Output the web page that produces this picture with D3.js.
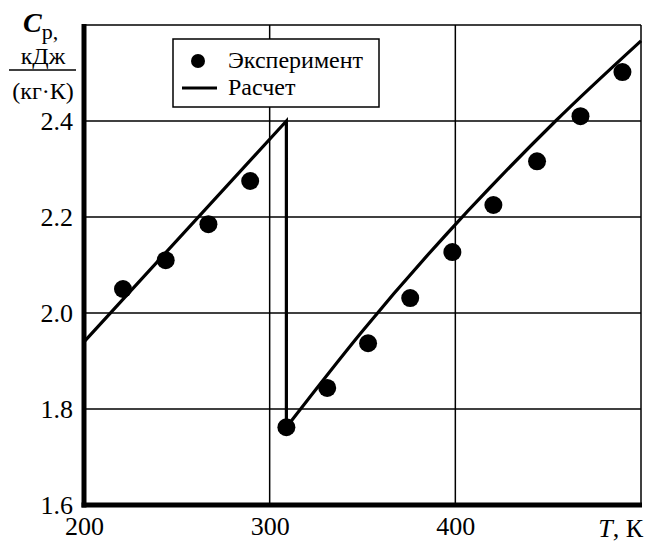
<!DOCTYPE html>
<html>
<head>
<meta charset="utf-8">
<script src="https://cdn.jsdelivr.net/npm/d3@7"></script>
<style>
  body { margin: 0; background: #fff; }
  svg text { font-family: "Liberation Serif", "Tinos", "Times New Roman", "DejaVu Serif", serif; fill: #000; }
</style>
</head>
<body>
<svg id="chart"></svg>
<script>
// data
const expT = [221, 244, 267, 289.5, 309, 331, 353, 375.7, 398.4, 420.5, 444, 467.4, 490];
const expCp = [2.05, 2.11, 2.185, 2.275, 1.762, 1.844, 1.937, 2.031, 2.127, 2.225, 2.316, 2.41, 2.502];

// calculated curve, two branches joined by a jump at 309 K
const calcT1 = [200, 309, 309];
const calcCp1 = [1.94, 2.4, 1.762];
const calcT2 = [309, 349, 454, 500];
const calcCp2 = [1.762, 1.958, 2.4, 2.567];

const xTicks = [200, 300, 400];
const yTicks = [1.6, 1.8, 2.0, 2.2, 2.4];
const xGrid = [300, 400, 500];
const yGrid = [1.8, 2.0, 2.2, 2.4, 2.6];

const serif = "'Liberation Serif', Tinos, 'Times New Roman', 'DejaVu Serif', serif";

const width = 658;
const height = 543;
const margin = { top: 25, right: 17, bottom: 38, left: 84 };

const svg = d3.select("#chart").attr("width", width).attr("height", height);

const x = d3.scaleLinear().domain([200, 500]).range([margin.left, width - margin.right]);
const y = d3.scaleLinear().domain([1.6, 2.6]).range([height - margin.bottom, margin.top]);

// grid
svg.append("g")
  .selectAll("line")
  .data(xGrid)
  .join("line")
  .attr("x1", (d) => x(d))
  .attr("x2", (d) => x(d))
  .attr("y1", y(1.6))
  .attr("y2", y(2.6))
  .attr("stroke", "#000")
  .attr("stroke-width", 1.5);

svg.append("g")
  .selectAll("line")
  .data(yGrid)
  .join("line")
  .attr("x1", x(200))
  .attr("x2", x(500))
  .attr("y1", (d) => y(d))
  .attr("y2", (d) => y(d))
  .attr("stroke", "#000")
  .attr("stroke-width", 1.5);

// thick axes
svg.append("line")
  .attr("x1", x(200)).attr("x2", x(200))
  .attr("y1", y(2.6) - 1).attr("y2", y(1.6) + 2.5)
  .attr("stroke", "#000").attr("stroke-width", 5);
svg.append("line")
  .attr("x1", x(200) - 2.5).attr("x2", x(500) + 1)
  .attr("y1", y(1.6)).attr("y2", y(1.6))
  .attr("stroke", "#000").attr("stroke-width", 5);

// tick labels
const yAxis = d3.axisLeft(y).tickValues(yTicks).tickSize(0).tickPadding(10)
  .tickFormat(d3.format(".1f"));
svg.append("g")
  .attr("transform", `translate(${margin.left - 1},0)`)
  .call(yAxis)
  .attr("font-family", serif)
  .attr("font-size", 26)
  .call((g) => g.select(".domain").remove());

const xAxis = d3.axisBottom(x).tickValues(xTicks).tickSize(0).tickPadding(12)
  .tickFormat(d3.format("d"));
svg.append("g")
  .attr("transform", `translate(0,${height - margin.bottom})`)
  .call(xAxis)
  .attr("font-family", serif)
  .attr("font-size", 26)
  .call((g) => g.select(".domain").remove());

// x axis title
const xt = svg.append("text")
  .attr("x", 643)
  .attr("y", 537)
  .attr("text-anchor", "end")
  .attr("font-size", 26);
xt.append("tspan").attr("font-style", "italic").text("T");
xt.append("tspan").text(", К");

// y axis title
const yt = svg.append("text").attr("x", 23).attr("y", 32).attr("font-size", 28);
yt.append("tspan").attr("font-weight", "bold").attr("font-style", "italic").text("C");
yt.append("tspan").attr("font-size", 22).attr("dy", 7).text("р,");

svg.append("text")
  .attr("x", 43).attr("y", 64)
  .attr("text-anchor", "middle")
  .attr("font-size", 24)
  .text("кДж");
svg.append("line")
  .attr("x1", 9).attr("x2", 76)
  .attr("y1", 70).attr("y2", 70)
  .attr("stroke", "#000").attr("stroke-width", 1.5);
svg.append("text")
  .attr("x", 43).attr("y", 99)
  .attr("text-anchor", "middle")
  .attr("font-size", 24)
  .text("(кг·К)");

// calculated line
const calc1 = calcT1.map((t, i) => ({ t: t, cp: calcCp1[i] }));
const calc2 = calcT2.map((t, i) => ({ t: t, cp: calcCp2[i] }));
const line = d3.line().x((d) => x(d.t)).y((d) => y(d.cp));
const smooth = d3.line().x((d) => x(d.t)).y((d) => y(d.cp)).curve(d3.curveMonotoneX);
svg.append("path")
  .datum(calc1)
  .attr("d", line)
  .attr("fill", "none")
  .attr("stroke", "#000")
  .attr("stroke-width", 3.2)
  .attr("stroke-linejoin", "miter");
svg.append("path")
  .datum(calc2)
  .attr("d", smooth)
  .attr("fill", "none")
  .attr("stroke", "#000")
  .attr("stroke-width", 3.2);

// experimental points
const exp = expT.map((t, i) => ({ t: t, cp: expCp[i] }));
svg.append("g")
  .selectAll("circle")
  .data(exp)
  .join("circle")
  .attr("cx", (d) => x(d.t))
  .attr("cy", (d) => y(d.cp))
  .attr("r", 9)
  .attr("fill", "#000");

// legend
const legend = svg.append("g");
legend.append("rect")
  .attr("x", 173).attr("y", 39)
  .attr("width", 206).attr("height", 68)
  .attr("fill", "#fff")
  .attr("stroke", "#000")
  .attr("stroke-width", 1.5);
legend.append("circle").attr("cx", 198).attr("cy", 61).attr("r", 7).attr("fill", "#000");
legend.append("line")
  .attr("x1", 182).attr("x2", 217)
  .attr("y1", 88).attr("y2", 88)
  .attr("stroke", "#000").attr("stroke-width", 3.2);
legend.append("text").attr("x", 228).attr("y", 68).attr("font-size", 24).text("Эксперимент");
legend.append("text").attr("x", 228).attr("y", 95).attr("font-size", 24).text("Расчет");
</script>
</body>
</html>
